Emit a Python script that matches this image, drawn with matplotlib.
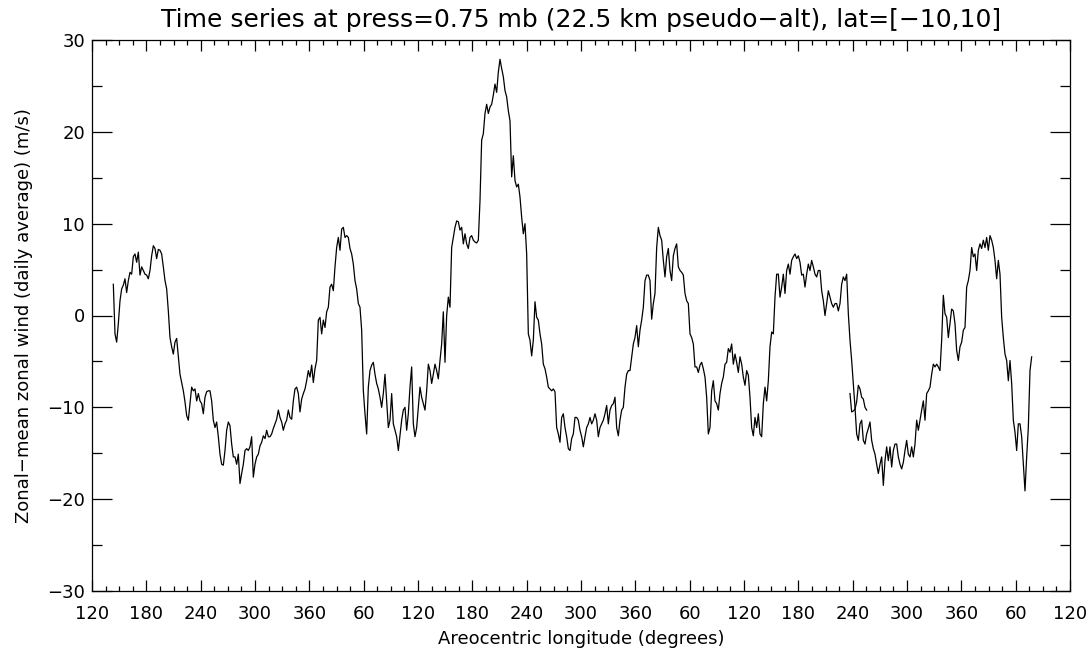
import numpy as np
import matplotlib
matplotlib.use("Agg")
import matplotlib.pyplot as plt
from matplotlib.ticker import MultipleLocator, FuncFormatter

# daily-average zonal-mean zonal wind, equatorial band, 0.75 mb
# records are evenly spaced in cumulative Ls (deg)
ls_first = 143.55
ls_step = 1.8405

wind_part1 = [3.4, -2.0, -2.9, -0.9, 1.6, 2.9, 3.3, 4.0, 2.5, 3.8,
              4.7, 4.5, 6.4, 6.7, 5.8, 6.9, 4.4, 5.3, 4.9, 4.5,
              4.4, 4.0, 4.9, 6.5, 7.6, 7.3, 6.2, 7.2, 7.1, 6.7,
              5.3, 3.8, 2.9, 0.5, -2.4, -3.4, -4.2, -2.9, -2.5, -4.4,
              -6.4, -7.3, -8.2, -9.4, -10.9, -11.4, -9.6, -7.8, -8.2, -8.0,
              -9.3, -8.5, -9.3, -9.6, -10.7, -8.9, -8.3, -8.2, -8.2, -9.3,
              -11.4, -12.2, -11.6, -13.2, -15.1, -16.2, -16.3, -14.7, -12.5, -11.6,
              -12.0, -14.0, -15.4, -15.4, -16.2, -15.1, -18.3, -17.2, -16.2, -14.7,
              -14.5, -14.7, -14.3, -13.2, -17.6, -16.2, -15.4, -15.1, -14.2, -13.8,
              -13.1, -13.4, -12.5, -13.2]

wind_part2 = [-13.2, -12.9, -12.3, -11.8, -11.3, -10.3, -11.1, -11.6, -12.5, -11.8,
              -11.4, -10.3, -11.1, -11.3, -9.3, -8.0, -7.8, -8.5, -10.5, -9.1,
              -8.5, -8.0, -7.1, -6.0, -6.7, -5.4, -7.3, -5.8, -4.9, -0.5,
              -0.2, -2.0, -0.5, -1.3, 0.4, 0.9, 3.1, 3.4, 2.7, 5.3,
              7.4, 8.5, 7.1, 9.4, 9.6, 8.5, 8.7, 8.5, 7.3, 6.7,
              5.6, 3.8, 2.9, 1.3, 0.9, -1.6, -8.2, -10.7, -12.9, -7.8,
              -6.0, -5.4, -5.1, -6.4, -7.4, -8.0, -8.9, -10.0, -8.5, -6.4,
              -9.3, -12.2, -11.4, -8.5, -11.8, -12.5, -13.2, -14.7, -13.1, -11.4,
              -10.3, -10.0, -12.5, -10.7, -7.8, -5.6, -11.8, -13.2, -12.2, -10.0,
              -7.8, -8.9, -9.6, -10.3, -8.2, -5.3, -6.0, -7.4, -6.4, -5.3,
              -6.0, -6.9]

wind_part3 = [-4.9, -3.1, 0.4, -5.1, 0.0, 2.0, 0.9, 7.4, 8.5, 9.6,
              10.3, 10.2, 9.3, 9.6, 7.8, 8.9, 7.8, 7.3, 8.5, 8.7,
              8.2, 8.0, 7.9, 8.2, 12.5, 19.1, 19.8, 22.0, 23.0, 22.0,
              22.7, 23.0, 24.0, 25.2, 24.3, 26.5, 27.9, 26.9, 26.0, 24.5,
              23.8, 22.3, 21.2, 15.1, 17.4, 14.7, 14.0, 14.3, 12.9, 10.7,
              8.9, 10.0, 6.7, -2.0, -2.7, -4.4, -2.7, 1.5, -0.2, -0.5,
              -2.0, -3.1, -5.3, -5.8, -6.7, -7.8, -8.0, -8.2, -8.0, -8.3,
              -12.2, -12.9, -13.8, -11.1, -10.7, -12.2, -13.2, -14.5, -14.7, -13.4,
              -12.9, -11.1, -11.1, -11.4, -12.5, -13.2, -14.3, -13.2, -12.2, -11.8,
              -11.1, -11.8, -11.4, -10.7, -11.4, -13.2, -12.2, -11.8, -11.4, -10.7,
              -9.8, -11.8]

wind_part4 = [-10.3, -9.8, -9.6, -8.9, -12.2, -13.1, -11.4, -10.3, -10.0, -7.8,
              -6.4, -6.0, -6.0, -4.5, -3.1, -2.4, -1.1, -3.4, -1.6, -0.5,
              0.9, 3.8, 4.4, 4.4, 3.8, -0.4, 1.3, 2.4, 7.4, 9.6,
              8.7, 8.2, 6.0, 4.2, 6.4, 7.3, 4.9, 3.8, 6.5, 7.3,
              7.8, 5.3, 4.9, 4.7, 4.4, 2.4, 1.6, 1.3, -2.0, -2.4,
              -3.1, -5.6, -5.6, -6.2, -5.4, -5.1, -5.8, -6.7, -8.9, -12.9,
              -12.2, -8.2, -7.1, -9.3, -9.6, -10.3, -8.5, -7.4, -6.7, -5.3,
              -5.1, -3.6, -4.0, -3.1, -5.3, -4.2, -5.1, -6.2, -4.5, -5.3,
              -6.7, -7.6, -6.0, -6.5, -8.9, -12.2, -13.1, -11.1, -12.2, -10.7,
              -12.9, -13.2, -9.6, -7.8, -9.3, -7.1, -3.4, -1.8, -2.0, 2.0,
              4.5, 4.5]

wind_part5 = [2.0, 3.1, 4.5, 2.4, 4.9, 5.6, 4.5, 6.0, 6.4, 6.7,
              6.2, 6.5, 5.8, 4.4, 4.5, 3.1, 4.5, 5.6, 4.9, 6.0,
              5.3, 4.5, 4.2, 4.9, 4.9, 2.7, 1.6, 0.0, 1.3, 2.7,
              2.0, 1.3, 0.9, 1.3, 1.3, 0.5, 1.3, 3.4, 4.2, 3.8,
              4.5, 0.2, -2.7, -4.9, -7.4, -10.0, -12.9, -13.6, -11.8, -11.4,
              -13.6, -14.0, -12.9, -12.3, -11.6, -13.6, -14.5, -15.1, -16.2, -17.2,
              -16.2, -15.4, -18.5, -15.8, -14.3, -15.8, -14.3, -16.5, -14.7, -14.0,
              -14.0, -15.4, -16.2, -16.7, -16.0, -14.7, -13.6, -15.1, -15.4, -14.3,
              -15.4, -14.0, -11.4, -12.5, -11.4, -10.3, -9.3, -11.4, -8.5, -8.2,
              -7.8, -6.4, -5.3, -5.6, -5.3, -5.6]

wind_part6 = [-6.0, -2.7, 2.2, 0.2, -0.2, -2.4, -0.9, 0.7, 0.5, -0.9,
              -3.8, -4.9, -3.4, -2.9, -1.6, -1.3, 3.1, 3.8, 4.9, 7.4,
              6.4, 6.7, 4.9, 7.1, 7.8, 7.3, 8.2, 7.4, 8.5, 7.1,
              8.7, 8.2, 7.4, 6.0, 4.0, 6.0, 4.5, -0.2, -2.4, -4.2,
              -4.9, -7.1, -4.9, -7.4, -11.4, -12.7, -14.7, -11.8, -11.8, -13.2,
              -16.2, -19.1, -15.4, -12.2, -6.0, -4.5]

# short overlapping record where the next file starts
ls_overlap_first = 957.05
wind_overlap = [-8.5, -10.5, -10.4, -10.2, -9.4, -7.6, -8.0, -8.9, -9.1, -10.0, -10.3]

wind = np.array(wind_part1 + wind_part2 + wind_part3 + wind_part4 + wind_part5 + wind_part6)
ls = ls_first + ls_step * np.arange(len(wind))
ls_ov = ls_overlap_first + ls_step * np.arange(len(wind_overlap))

plt.rcParams['font.family'] = ['DejaVu Sans']
plt.rcParams['axes.unicode_minus'] = True

fig = plt.figure(figsize=(10.9, 6.5), dpi=100)
ax = fig.add_axes([92 / 1090, 59 / 650, 978 / 1090, 551 / 650])

ax.plot(ls, wind, color='black', lw=0.9)
ax.plot(ls_ov, wind_overlap, color='black', lw=0.9)

ax.set_xlim(120, 1200)
ax.set_ylim(-30, 30)

ax.xaxis.set_major_locator(MultipleLocator(60))
ax.xaxis.set_minor_locator(MultipleLocator(15))
ax.yaxis.set_major_locator(MultipleLocator(10))
ax.yaxis.set_minor_locator(MultipleLocator(5))


def wrap_ls(v, pos):
    w = int(round(v)) % 360
    return str(360 if w == 0 else w)


ax.xaxis.set_major_formatter(FuncFormatter(wrap_ls))

ax.tick_params(axis='x', which='major', direction='in', length=8, width=0.9,
               top=True, bottom=True, labelsize=13, pad=10)
ax.tick_params(axis='x', which='minor', direction='in', length=3.8, width=0.9,
               top=True, bottom=True)
ax.tick_params(axis='y', which='major', direction='in', length=14.5, width=0.9,
               left=True, right=True, labelsize=13, pad=5)
ax.tick_params(axis='y', which='minor', direction='in', length=7.5, width=0.9,
               left=True, right=True)
for s in ax.spines.values():
    s.set_linewidth(0.9)

ax.set_title("Time series at press=0.75 mb (22.5 km pseudo\u2212alt), lat=[\u221210,10]",
             fontsize=18, pad=9)
ax.set_xlabel("Areocentric longitude (degrees)", fontsize=13, labelpad=5)
ax.set_ylabel("Zonal\u2212mean zonal wind (daily average) (m/s)", fontsize=13, labelpad=10)

fig.savefig("out.png", dpi=100)
